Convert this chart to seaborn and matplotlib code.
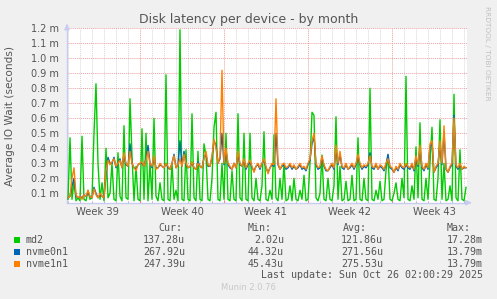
import numpy as np
import pandas as pd
import matplotlib
matplotlib.use("Agg")
import matplotlib.pyplot as plt
import matplotlib.dates as mdates
import matplotlib.transforms as mtransforms
import seaborn as sns

# ---------------- data (values in milliseconds, "m") ----------------
start_time = "2025-09-23 00:00"
step = "4h"

md2 = [
    0.06, 0.47, 0.06, 0.18, 0.05, 0.07, 0.05, 0.48, 0.06, 0.05,
    0.12, 0.06, 0.07, 0.50, 0.83, 0.30, 0.06, 0.17, 0.05, 0.40,
    0.07, 0.10, 0.30, 0.06, 0.05, 0.37, 0.08, 0.05, 0.55, 0.07,
    0.06, 0.73, 0.35, 0.05, 0.28, 0.06, 0.05, 0.53, 0.06, 0.50,
    0.05, 0.30, 0.06, 0.60, 0.08, 0.05, 0.17, 0.06, 0.05, 0.89,
    0.06, 0.05, 0.30, 0.06, 0.12, 0.05, 1.19, 0.06, 0.05, 0.39,
    0.06, 0.05, 0.63, 0.07, 0.05, 0.38, 0.06, 0.05, 0.43, 0.35,
    0.06, 0.05, 0.20, 0.54, 0.64, 0.06, 0.05, 0.30, 0.06, 0.50,
    0.06, 0.05, 0.25, 0.06, 0.05, 0.63, 0.07, 0.05, 0.50, 0.06,
    0.05, 0.50, 0.07, 0.05, 0.20, 0.06, 0.05, 0.15, 0.51, 0.06,
    0.05, 0.12, 0.06, 0.49, 0.07, 0.05, 0.20, 0.06, 0.30, 0.05,
    0.06, 0.15, 0.05, 0.20, 0.06, 0.05, 0.12, 0.06, 0.22, 0.05,
    0.06, 0.30, 0.64, 0.62, 0.07, 0.05, 0.10, 0.355, 0.06, 0.05,
    0.20, 0.06, 0.05, 0.15, 0.61, 0.06, 0.28, 0.05, 0.06, 0.18,
    0.05, 0.06, 0.22, 0.05, 0.06, 0.47, 0.06, 0.05, 0.20, 0.06,
    0.05, 0.80, 0.06, 0.05, 0.12, 0.06, 0.18, 0.05, 0.06, 0.25,
    0.355, 0.06, 0.05, 0.10, 0.17, 0.06, 0.05, 0.20, 0.07, 0.88,
    0.06, 0.05, 0.15, 0.06, 0.41, 0.07, 0.57, 0.06, 0.05, 0.20,
    0.06, 0.30, 0.54, 0.06, 0.05, 0.20, 0.59, 0.06, 0.30, 0.05,
    0.06, 0.15, 0.05, 0.76, 0.07, 0.05, 0.39, 0.06, 0.05, 0.14,
]

nvme0n1 = [
    0.07, 0.08, 0.15, 0.20, 0.08, 0.07, 0.08, 0.07, 0.09, 0.08,
    0.10, 0.08, 0.07, 0.14, 0.10, 0.07, 0.09, 0.08, 0.07, 0.22,
    0.34, 0.30, 0.30, 0.34, 0.27, 0.30, 0.33, 0.27, 0.36, 0.29,
    0.28, 0.43, 0.30, 0.27, 0.26, 0.29, 0.30, 0.30, 0.28, 0.33,
    0.42, 0.30, 0.27, 0.34, 0.27, 0.27, 0.29, 0.28, 0.27, 0.30,
    0.27, 0.26, 0.30, 0.36, 0.27, 0.29, 0.45, 0.28, 0.38, 0.29,
    0.27, 0.28, 0.30, 0.27, 0.26, 0.31, 0.28, 0.27, 0.34, 0.36,
    0.28, 0.28, 0.34, 0.45, 0.42, 0.30, 0.33, 0.50, 0.29, 0.38,
    0.29, 0.27, 0.26, 0.30, 0.27, 0.36, 0.29, 0.28, 0.32, 0.26,
    0.29, 0.31, 0.27, 0.25, 0.28, 0.29, 0.26, 0.30, 0.32, 0.27,
    0.24, 0.27, 0.29, 0.28, 0.50, 0.29, 0.26, 0.28, 0.29, 0.26,
    0.27, 0.29, 0.26, 0.28, 0.26, 0.27, 0.29, 0.26, 0.27, 0.25,
    0.29, 0.32, 0.43, 0.48, 0.29, 0.26, 0.27, 0.34, 0.28, 0.25,
    0.25, 0.27, 0.29, 0.26, 0.40, 0.29, 0.36, 0.27, 0.26, 0.29,
    0.26, 0.27, 0.29, 0.26, 0.29, 0.35, 0.29, 0.26, 0.28, 0.27,
    0.29, 0.37, 0.27, 0.26, 0.29, 0.26, 0.28, 0.27, 0.25, 0.29,
    0.36, 0.27, 0.26, 0.24, 0.27, 0.25, 0.29, 0.27, 0.26, 0.29,
    0.27, 0.26, 0.29, 0.25, 0.34, 0.28, 0.40, 0.27, 0.25, 0.29,
    0.26, 0.41, 0.43, 0.24, 0.27, 0.29, 0.43, 0.29, 0.50, 0.26,
    0.24, 0.27, 0.29, 0.62, 0.28, 0.26, 0.29, 0.26, 0.27, 0.27,
]

nvme1n1 = [
    0.07, 0.08, 0.20, 0.27, 0.09, 0.07, 0.08, 0.06, 0.09, 0.08,
    0.12, 0.08, 0.07, 0.13, 0.09, 0.07, 0.10, 0.08, 0.07, 0.25,
    0.32, 0.29, 0.31, 0.33, 0.28, 0.30, 0.32, 0.27, 0.37, 0.30,
    0.28, 0.38, 0.30, 0.27, 0.25, 0.29, 0.30, 0.31, 0.28, 0.32,
    0.38, 0.30, 0.28, 0.35, 0.26, 0.27, 0.30, 0.28, 0.27, 0.30,
    0.28, 0.26, 0.30, 0.35, 0.27, 0.29, 0.33, 0.28, 0.36, 0.30,
    0.27, 0.28, 0.31, 0.27, 0.26, 0.30, 0.28, 0.27, 0.33, 0.38,
    0.29, 0.28, 0.35, 0.46, 0.40, 0.30, 0.35, 0.92, 0.30, 0.40,
    0.30, 0.28, 0.26, 0.30, 0.27, 0.38, 0.30, 0.28, 0.33, 0.27,
    0.30, 0.32, 0.28, 0.24, 0.28, 0.30, 0.27, 0.30, 0.33, 0.28,
    0.23, 0.27, 0.30, 0.29, 0.73, 0.30, 0.26, 0.29, 0.30, 0.27,
    0.28, 0.30, 0.27, 0.29, 0.26, 0.28, 0.30, 0.27, 0.28, 0.26,
    0.30, 0.33, 0.45, 0.50, 0.30, 0.27, 0.28, 0.35, 0.29, 0.26,
    0.25, 0.28, 0.30, 0.27, 0.42, 0.30, 0.38, 0.28, 0.27, 0.30,
    0.26, 0.28, 0.30, 0.27, 0.30, 0.36, 0.30, 0.27, 0.29, 0.28,
    0.30, 0.35, 0.28, 0.27, 0.30, 0.26, 0.29, 0.28, 0.26, 0.30,
    0.33, 0.28, 0.27, 0.24, 0.28, 0.26, 0.30, 0.28, 0.27, 0.30,
    0.28, 0.27, 0.30, 0.26, 0.35, 0.29, 0.42, 0.28, 0.26, 0.30,
    0.27, 0.43, 0.45, 0.24, 0.28, 0.30, 0.45, 0.30, 0.55, 0.27,
    0.24, 0.28, 0.30, 0.60, 0.29, 0.27, 0.30, 0.26, 0.28, 0.27,
]

devices = ["md2", "nvme0n1", "nvme1n1"]
colors = ["#00CC00", "#0066B3", "#FF8000"]
cur = ["137.28u", "267.92u", "247.39u"]
mins = ["2.02u", "44.32u", "45.43u"]
avgs = ["121.86u", "271.56u", "275.53u"]
maxs = ["17.28m", "13.79m", "13.79m"]

y_ticks = [0.1, 0.2, 0.3, 0.4, 0.5, 0.6, 0.7, 0.8, 0.9, 1.0, 1.1, 1.2]
week_labels = ["Week 39", "Week 40", "Week 41", "Week 42", "Week 43"]
week_centers = ["2025-09-25 12:00", "2025-10-02 12:00", "2025-10-09 12:00",
                "2025-10-16 12:00", "2025-10-23 12:00"]
x_start = "2025-09-22 22:00"
x_end = "2025-10-26 06:00"

title = "Disk latency per device - by month"
ylabel = "Average IO Wait (seconds)"
last_update = "Last update: Sun Oct 26 02:00:29 2025"
footer = "Munin 2.0.76"
side = "RRDTOOL / TOBI OETIKER"

# ---------------- build frame ----------------
times = pd.date_range(start_time, periods=len(md2), freq=step)
df = pd.concat([
    pd.DataFrame({"time": times, "value": vals, "device": name})
    for name, vals in zip(devices, [md2, nvme0n1, nvme1n1])
], ignore_index=True)

# ---------------- figure ----------------
plt.rcParams["font.family"] = ["DejaVu Sans"]
W, H = 497, 299
fig = plt.figure(figsize=(W / 100, H / 100), dpi=100, facecolor="#F0F0F0")

L, R, T, B = 67, 467, 28.3, 202.7
ax = fig.add_axes([L / W, 1 - B / H, (R - L) / W, (B - T) / H])
ax.set_facecolor("white")

sns.lineplot(data=df, x="time", y="value", hue="device", hue_order=devices,
             palette=dict(zip(devices, colors)), linewidth=1.0, legend=False,
             ax=ax, zorder=3)

ax.set_xlim(pd.Timestamp(x_start), pd.Timestamp(x_end))
ax.set_ylim(0.0373, 1.2)
ax.set_xlabel("")
ax.set_ylabel("")

# grids
ax.xaxis.set_major_locator(mdates.WeekdayLocator(byweekday=mdates.MO))
ax.xaxis.set_minor_locator(mdates.DayLocator())
ax.xaxis.set_major_formatter(matplotlib.ticker.NullFormatter())
ax.set_yticks(y_ticks)
ax.set_yticklabels([f"{v:.1f} m" for v in y_ticks])

dot = (0, (1, 1))
ax.grid(which="minor", axis="x", color="#D8D8D8", linestyle=dot, linewidth=0.7, zorder=1)
ax.grid(which="major", axis="x", color="#EBA0A0", linestyle=dot, linewidth=0.7, zorder=1)
ax.grid(which="major", axis="y", color="#EBA0A0", linestyle=dot, linewidth=0.7, zorder=1)
ax.set_axisbelow(True)

ax.tick_params(axis="y", which="both", length=0, pad=6, labelsize=7, labelcolor="#555555")
ax.tick_params(axis="x", which="major", length=2, color="#F08080", direction="in")
ax.tick_params(axis="x", which="minor", length=1.5, color="#B0B0B0", direction="in")

for s in ["top", "right"]:
    ax.spines[s].set_visible(False)
for s in ["left", "bottom"]:
    ax.spines[s].set_color("#C8CCF0")
    ax.spines[s].set_linewidth(1.0)

# arrows at axis ends
ax.annotate("", xy=(0, 1.045), xytext=(0, 0.98), xycoords="axes fraction",
            arrowprops=dict(arrowstyle="-|>,head_width=0.15,head_length=0.35",
                            color="#C8CCF0", lw=1), annotation_clip=False)
ax.annotate("", xy=(1.02, 0), xytext=(0.99, 0), xycoords="axes fraction",
            arrowprops=dict(arrowstyle="-|>,head_width=0.15,head_length=0.35",
                            color="#C8CCF0", lw=1), annotation_clip=False)

# week labels
trans = mtransforms.blended_transform_factory(ax.transData, ax.transAxes)
for lab, c in zip(week_labels, week_centers):
    ax.text(mdates.date2num(pd.Timestamp(c)), -0.055, lab, transform=trans,
            ha="center", va="center", fontsize=7.2, color="#555555")

# titles
def fy(py):
    return 1 - py / H

fig.text(248.5 / W, fy(19), title, ha="center", va="center", fontsize=9, color="#555555")
fig.text(10 / W, fy(115.5), ylabel, rotation=90, ha="center", va="center",
         fontsize=7.6, color="#555555")
fig.text(487 / W, fy(53), side, rotation=270, ha="center", va="center",
         fontsize=5.3, color="#C0C0C0")

# legend block
mono = dict(family="DejaVu Sans Mono", fontsize=7.2, color="#555555", va="center")
fig.text(158 / W, fy(228), "Cur:", ha="left", **mono)
fig.text(248 / W, fy(228), "Min:", ha="left", **mono)
fig.text(343 / W, fy(228), "Avg:", ha="left", **mono)
fig.text(447 / W, fy(228), "Max:", ha="left", **mono)

row_y = [240, 252, 263.7]
for name, col, c, mn, av, mx, ry in zip(devices, colors, cur, mins, avgs, maxs, row_y):
    fig.patches.append(matplotlib.patches.Rectangle(
        (14 / W, fy(ry + 3)), 6 / W, 6 / H, transform=fig.transFigure,
        facecolor=col, edgecolor="none"))
    fig.text(26 / W, fy(ry), name, ha="left", **mono)
    fig.text(185 / W, fy(ry), c, ha="right", **mono)
    fig.text(284 / W, fy(ry), mn, ha="right", **mono)
    fig.text(383 / W, fy(ry), av, ha="right", **mono)
    fig.text(483 / W, fy(ry), mx, ha="right", **mono)

fig.text(483 / W, fy(275.3), last_update, ha="right", **mono)
fig.text(248 / W, fy(288), footer, ha="center", va="center", fontsize=6, color="#C8C8C8")

fig.savefig("out.png", dpi=100, facecolor=fig.get_facecolor())
